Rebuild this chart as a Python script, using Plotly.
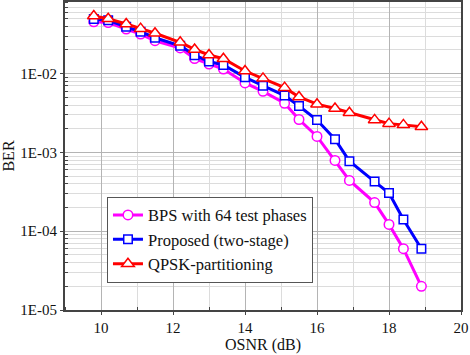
import plotly.graph_objects as go

osnr = [9.8, 10.2, 10.7, 11.1, 11.5, 12.2, 12.6, 13.0, 13.4, 14.0,
        14.5, 15.1, 15.5, 16.0, 16.5, 16.9, 17.6, 18.0, 18.4, 18.9]

ber_bps = [0.0455, 0.0446, 0.0368, 0.0318, 0.0262, 0.0212, 0.01556, 0.01327, 0.01146, 0.00762,
           0.00597, 0.00421, 0.00262, 0.00160, 0.000793, 0.000442, 0.000231, 0.000122, 6.0e-5, 2.0e-5]

ber_proposed = [0.0495, 0.0476, 0.0393, 0.0341, 0.0286, 0.0226, 0.0172, 0.0143, 0.0129, 0.00898,
                0.00705, 0.00527, 0.00388, 0.00258, 0.00147, 0.000776, 0.000427, 0.000305, 0.000141, 6.0e-5]

ber_qpsk = [0.0541, 0.0497, 0.0428, 0.0373, 0.0326, 0.0250, 0.0203, 0.01726, 0.01549, 0.01081,
            0.00872, 0.00665, 0.00507, 0.00410, 0.00361, 0.00319, 0.00259, 0.00232, 0.00224, 0.00212]

names = ["BPS with 64 test phases", "Proposed (two-stage)", "QPSK-partitioning"]

y_major = [1e-5, 1e-4, 1e-3, 1e-2]
y_major_text = ["1E-05", "1E-04", "1E-03", "1E-02"]
x_major = [10, 12, 14, 16, 18, 20]
x_minor = [9, 11, 13, 15, 17, 19]

y_minor = [m * 10 ** e for e in range(-5, -1) for m in range(2, 10)]

font_family = "Times New Roman, Liberation Serif, DejaVu Serif, serif"

fig = go.Figure()
styles = [
    ("#FF00FF", "circle", 9.5),
    ("#0000FF", "square", 8.5),
    ("#FF0000", "triangle-up", 11),
]
for ys, name, (col, sym, sz) in zip([ber_bps, ber_proposed, ber_qpsk], names, styles):
    fig.add_trace(go.Scatter(
        x=osnr, y=ys, name=name, mode="lines+markers",
        line=dict(color=col, width=3),
        marker=dict(symbol=sym, size=sz, color="white",
                    line=dict(color=col, width=1.5)),
    ))

fig.update_layout(
    width=470, height=355,
    margin=dict(l=65, r=9, t=2, b=45),
    paper_bgcolor="white", plot_bgcolor="white",
    font=dict(family=font_family, size=15, color="#111"),
    showlegend=True,
    legend=dict(
        x=0.106, y=0.368, xanchor="left", yanchor="top",
        bgcolor="white", bordercolor="#555", borderwidth=1,
        font=dict(family=font_family, size=16.5, color="#111"),
        itemwidth=30, tracegroupgap=0,
    ),
)

fig.update_xaxes(
    range=[9, 20],
    tickvals=x_major,
    ticks="outside", ticklen=3, tickcolor="#444",
    tickfont=dict(family=font_family, size=15),
    showgrid=True, gridcolor="#b4b4b4", gridwidth=1,
    showline=True, linecolor="#444", linewidth=2, mirror=True,
    minor=dict(tickvals=x_minor, showgrid=True, gridcolor="#dcdcdc", ticks="inside", ticklen=3, tickcolor="#444"),
    title=dict(text="OSNR (dB)", standoff=4, font=dict(family=font_family, size=16)),
    zeroline=False, automargin=False,
)
fig.update_yaxes(
    type="log",
    range=[-5, -1.09],
    tickvals=y_major, ticktext=y_major_text,
    ticks="outside", ticklen=3, tickcolor="#444",
    tickfont=dict(family=font_family, size=15),
    showgrid=True, gridcolor="#b4b4b4", gridwidth=1,
    showline=True, linecolor="#444", linewidth=2, mirror=True,
    minor=dict(tickvals=y_minor, showgrid=True, gridcolor="#dcdcdc", ticks="inside", ticklen=3, tickcolor="#444"),
    title=dict(text="BER", standoff=2, font=dict(family=font_family, size=16)),
    zeroline=False, automargin=False,
)

fig.write_html(
    "out.html",
    config={"displayModeBar": False},
    post_script="document.body.style.margin='0';document.body.style.padding='0';",
)
